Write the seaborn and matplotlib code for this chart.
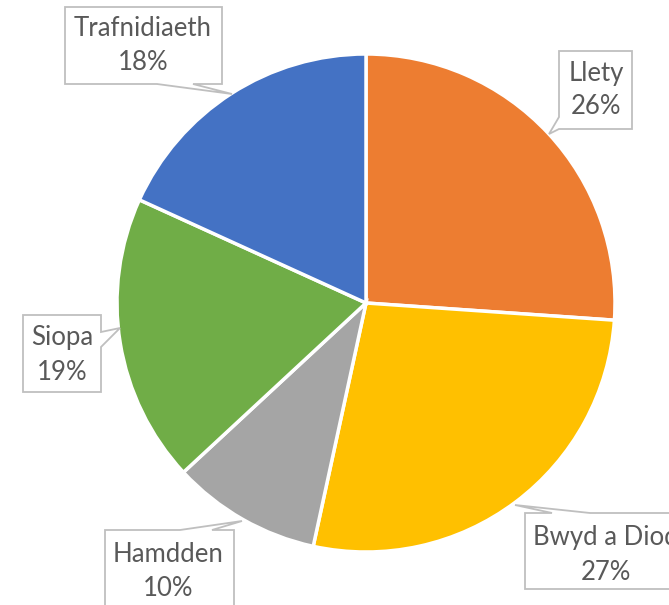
import matplotlib
matplotlib.use('Agg')
import matplotlib.pyplot as plt
import seaborn as sns
from matplotlib.patches import Polygon

# ================= DATA =================
categorias = ['Llety', 'Bwyd a Diod', 'Hamdden', 'Siopa', 'Trafnidiaeth']
valores = [26.1, 27.3, 9.7, 18.7, 18.2]
cores = ['#ED7D31', '#FFC000', '#A5A5A5', '#70AD47', '#4472C4']

# ================= LAYOUT (pixel coords, y down) =================
W, H = 669, 605
CENTRO = (366, 303)
RAIO = 249

# box (x0, y0, x1, y1), edge of pointer, base (a, b) along edge, tip, text centre
callouts = {
    'Trafnidiaeth': dict(box=(65, 7, 222, 84), edge='bottom', base=(157, 193), tip=(232, 94), txt=(143, 45)),
    'Llety': dict(box=(559, 51, 632, 129), edge='left', base=(117, 129), tip=(549, 134), txt=(596, 90)),
    'Bwyd a Diod': dict(box=(525, 513, 720, 589), edge='top', base=(552, 590), tip=(515, 505), txt=(606, 555)),
    'Hamdden': dict(box=(105, 530, 234, 650), edge='top', base=(180, 212), tip=(242, 521), txt=(168, 572)),
    'Siopa': dict(box=(23, 315, 101, 392), edge='right', base=(332, 347), tip=(120, 328), txt=(62, 355)),
}


def forma_callout(box, edge, base, tip):
    x0, y0, x1, y1 = box
    a, b = base
    if edge == 'bottom':
        pts = [(x0, y0), (x1, y0), (x1, y1), (b, y1), tip, (a, y1), (x0, y1)]
    elif edge == 'top':
        pts = [(x0, y0), (a, y0), tip, (b, y0), (x1, y0), (x1, y1), (x0, y1)]
    elif edge == 'left':
        pts = [(x0, y0), (x1, y0), (x1, y1), (x0, y1), (x0, b), tip, (x0, a)]
    else:
        pts = [(x0, y0), (x1, y0), (x1, a), tip, (x1, b), (x1, y1), (x0, y1)]
    return [(x, H - y) for x, y in pts]


sns.set_style('white')
plt.rcParams['font.family'] = ['Lato', 'DejaVu Sans']

fig = plt.figure(figsize=(W / 100, H / 100), dpi=100)
ax = fig.add_axes([0, 0, 1, 1])

ax.pie(valores, colors=cores, startangle=90, counterclock=False,
       center=(CENTRO[0], H - CENTRO[1]), radius=RAIO,
       wedgeprops=dict(edgecolor='white', linewidth=2.5))

total = sum(valores)
for nome, v in zip(categorias, valores):
    c = callouts[nome]
    poly = Polygon(forma_callout(c['box'], c['edge'], c['base'], c['tip']),
                   closed=True, facecolor='white', edgecolor='#BFBFBF',
                   linewidth=1.3, zorder=5)
    ax.add_patch(poly)
    ax.text(c['txt'][0], H - c['txt'][1], f'{nome}\n{round(v / total * 100)}%',
            ha='center', va='center', fontsize=18.5, color='#595959',
            linespacing=1.45, zorder=6)

ax.set_xlim(0, W)
ax.set_ylim(0, H)
ax.set_aspect('equal')
ax.axis('off')

fig.savefig('out.png', dpi=100)
